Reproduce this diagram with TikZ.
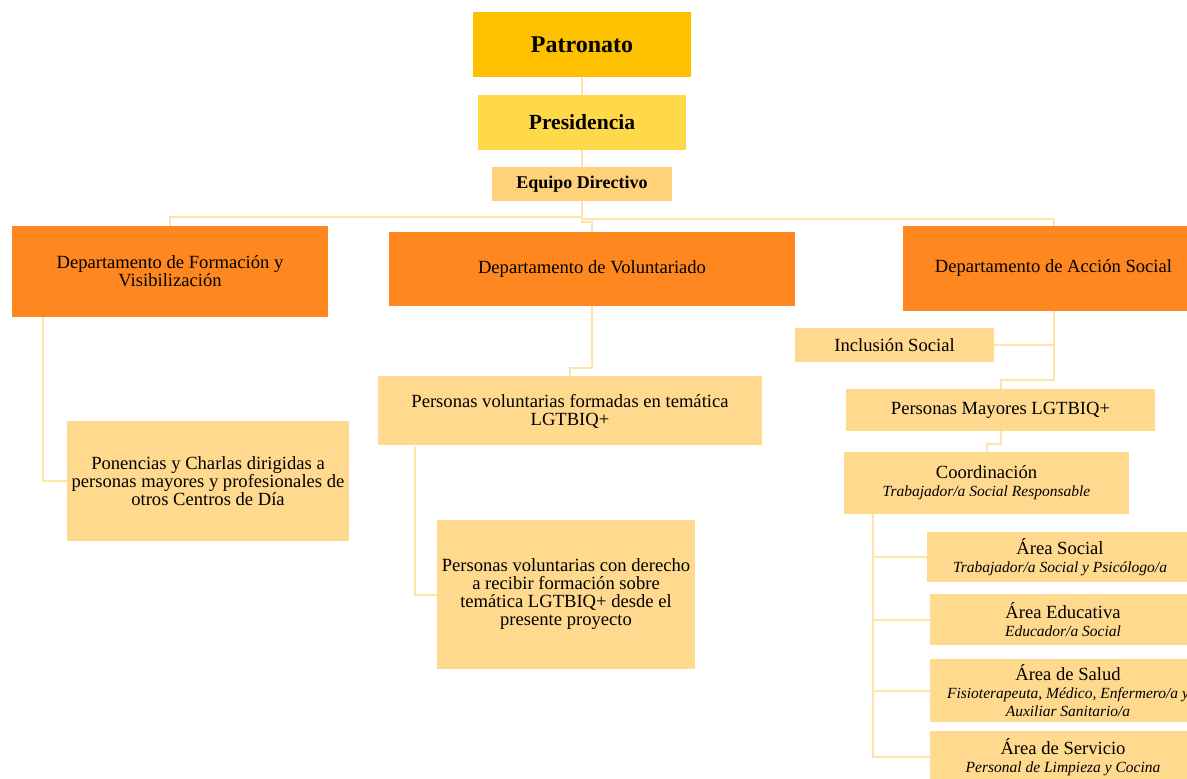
\documentclass[tikz,border=0pt]{standalone}
\usepackage{fontspec}
\setmainfont{Liberation Serif}
\usetikzlibrary{shapes,arrows,calc,positioning}
\definecolor{patron}{HTML}{FFC000}
\definecolor{presi}{HTML}{FFD94A}
\definecolor{equipo}{HTML}{FFD27A}
\definecolor{depto}{HTML}{FE881F}
\definecolor{area}{HTML}{FFD98E}
\definecolor{enlace}{HTML}{FFE3A8}
\tikzstyle{line} = [draw=enlace, line width=1pt]
\tikzstyle{block} = [rectangle, text centered, align=center, inner sep=0pt, font=\fontsize{9.3}{9}\selectfont]
\tikzstyle{dept} = [block, fill=depto]
\tikzstyle{sub} = [block, fill=area]
\newcommand{\cargo}[1]{{\fontsize{7.75}{7.5}\selectfont\itshape #1}}

\begin{document}
\begin{tikzpicture}[x=0.5pt, y=-0.5pt]
        \useasboundingbox (0,0) rectangle (1187,779);
        \clip (0,0) rectangle (1187,779);
        \node[block, fill=patron, minimum width=109pt, minimum height=32.5pt, font=\fontsize{12}{12}\bfseries] at (582,44.5) (patronato) {Patronato};
        \node[block, fill=presi, minimum width=104pt, minimum height=27.5pt, font=\fontsize{10.8}{11}\bfseries] at (582,122.5) (presidencia) {Presidencia};
        \node[block, fill=equipo, minimum width=90pt, minimum height=17pt, font=\fontsize{9}{9}\bfseries] at (582,184) (equipo) {Equipo Directivo};
        \node[dept, minimum width=158pt, minimum height=45.5pt] at (170,271.5) (formacion) {Departamento de Formación y\\Visibilización};
        \node[dept, minimum width=203pt, minimum height=37pt] at (592,269) (voluntariado) {Departamento de Voluntariado};
        \node[dept, minimum width=150.5pt, minimum height=42.5pt] at (1053.5,268.5) (accion) {Departamento de Acción Social};
        \node[sub, minimum width=141pt, minimum height=60pt] at (208,481) (ponencias) {Ponencias y Charlas dirigidas a\\personas mayores y profesionales de\\otros Centros de Día};
        \node[sub, minimum width=192pt, minimum height=34.5pt] at (570,411) (formadas) {Personas voluntarias formadas en temática\\LGTBIQ+};
        \node[sub, minimum width=129pt, minimum height=74.5pt] at (566,594.5) (derecho) {Personas voluntarias con derecho\\a recibir formación sobre\\temática LGTBIQ+ desde el\\presente proyecto};
        \node[sub, minimum width=99.5pt, minimum height=17pt] at (894.5,345) (inclusion) {Inclusión Social};
        \node[sub, minimum width=154.5pt, minimum height=21pt] at (1000.5,410) (mayores) {Personas Mayores LGTBIQ+};
        \node[sub, minimum width=142.5pt, minimum height=31pt] at (986.5,483) (coord) {Coordinación\\\cargo{Trabajador/a Social Responsable}};
        \node[sub, minimum width=133pt, minimum height=25pt] at (1060,557) (asocial) {Área Social\\\cargo{Trabajador/a Social y Psicólogo/a}};
        \node[sub, minimum width=133pt, minimum height=25.5pt] at (1063,619.5) (aeduc) {Área Educativa\\\cargo{Educador/a Social}};
        \node[sub, minimum width=138pt, minimum height=31.5pt] at (1068,690.5) (asalud) {Área de Salud\\\cargo{Fisioterapeuta, Médico, Enfermero/a y}\\\cargo{Auxiliar Sanitario/a}};
        \node[sub, minimum width=133pt, minimum height=26pt] at (1063,757) (aserv) {Área de Servicio\\\cargo{Personal de Limpieza y Cocina}};
        \path[line] (patronato) -- (presidencia);
        \path[line] (presidencia) -- (equipo);
        \path[line] (equipo.south) -- ++(0,16) -| (formacion.north);
        \path[line] (equipo.south) -- ++(0,18) -| (accion.north);
        \path[line] (equipo.south) -- ++(0,21) -| (voluntariado.north);
        \path[line] (formacion.south west) ++(31,0) |- (ponencias.west);
        \path[line] (voluntariado.south) -- ++(0,62) -| (formadas.north);
        \path[line] (formadas.south west) ++(37,0) |- (derecho.west);
        \path[line] (accion.south) |- (inclusion.east);
        \path[line] (accion.south) -- ++(0,69) -| (mayores.north);
        \path[line] (mayores.south) -- ++(0,13) -| (coord.north);
        \foreach \a in {asocial,aeduc,asalud,aserv}
            \path[line] (coord.south west) ++(29,0) |- (\a.west);
    \end{tikzpicture}
\end{document}
